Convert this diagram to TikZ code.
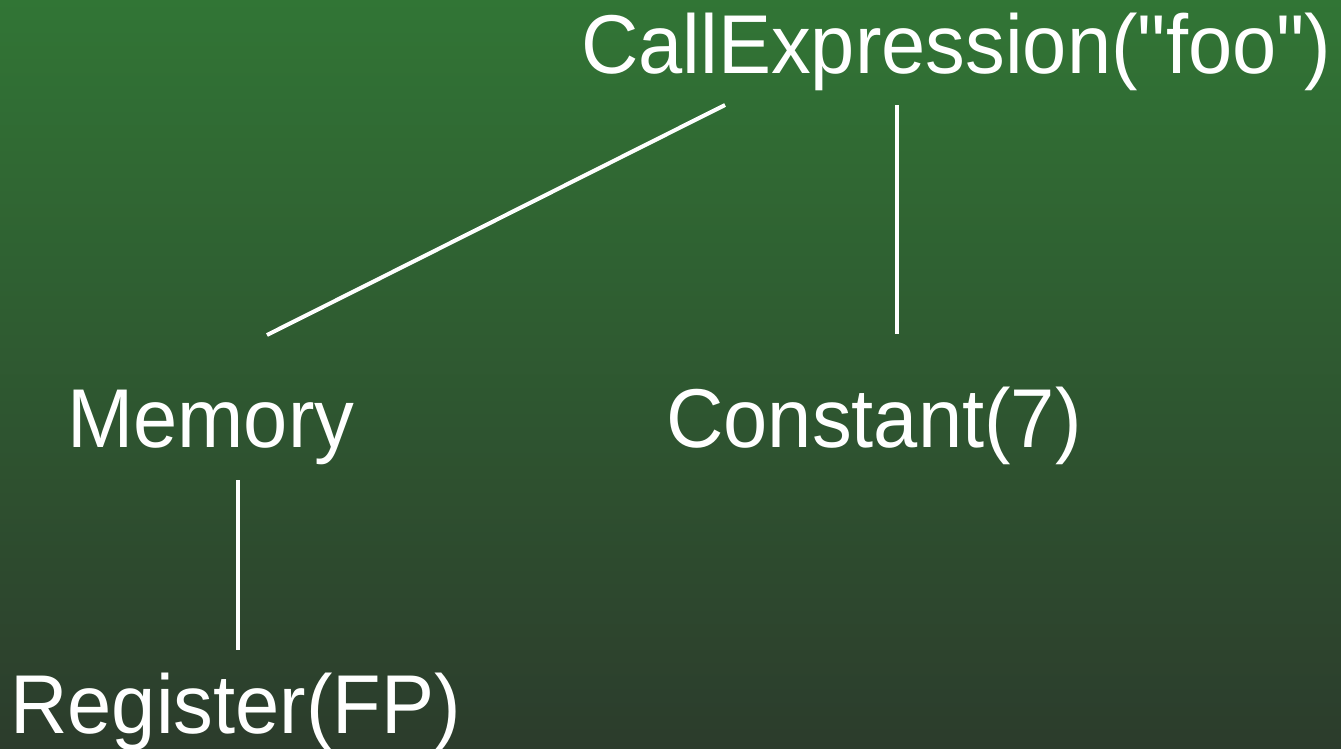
\documentclass[tikz,border=0pt]{standalone}
\usepackage{fontspec}
\setmainfont{Liberation Sans}[Ligatures=TeXOff]
\definecolor{topg}{HTML}{317535}
\definecolor{botg}{HTML}{2C3C2C}
\tikzset{
  lbl/.style={anchor=base west, inner sep=0pt, text=white, font=\fontsize{79.5}{90}\selectfont},
  edge/.style={draw=white, line width=4pt}
}
\begin{document}
\begin{tikzpicture}[x=1pt,y=-1pt]
\shade[top color=topg, bottom color=botg] (0,0) rectangle (1341,748);
\useasboundingbox (0,0) rectangle (1341,748);
\node[lbl] (call) at (581,73) {\scalebox{1}[1.05]{CallExpression("foo")}};
\node[lbl] (mem) at (67,447) {\scalebox{1}[1.05]{Memory}};
\node[lbl] (const) at (666,447) {\scalebox{1}[1.05]{Constant(7)}};
\node[lbl] (reg) at (10,733) {\scalebox{1}[1.05]{Register(FP)}};
\coordinate (c1) at (725,105);
\coordinate (c2) at (897,105);
\coordinate (m1) at (267,335);
\coordinate (k1) at (897,334);
\coordinate (m2) at (238,480);
\coordinate (r1) at (238,650);
\draw[edge] (c1) -- (m1);
\draw[edge] (c2) -- (k1);
\draw[edge] (m2) -- (r1);
\end{tikzpicture}
\end{document}
